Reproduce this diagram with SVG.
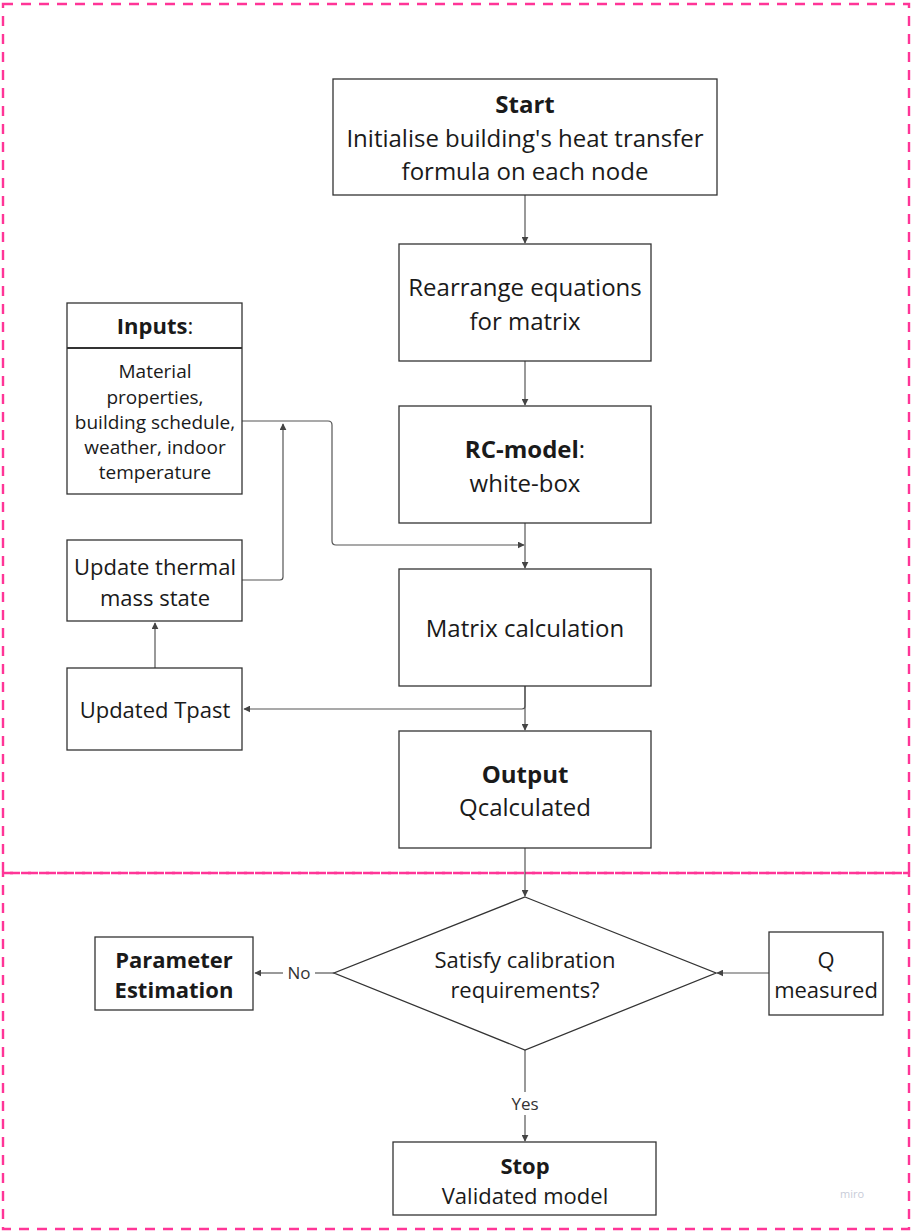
<svg xmlns="http://www.w3.org/2000/svg" width="911" height="1232" viewBox="0 0 911 1232">
  <style>
    .frame { fill: none; stroke: #ff3597; stroke-width: 2.4; stroke-dasharray: 10 8; }
    .box { fill: #ffffff; stroke: #333333; stroke-width: 1.3; }
    .t { font-family: "Open Sans", "Noto Sans", sans-serif; fill: #1a1a1a; text-anchor: middle; }
    .xl { font-size: 24px; }
    .lg { font-size: 22px; }
    .sm { font-size: 19px; }
    .b { font-weight: 700; }
    .edge { fill: none; stroke: #555555; stroke-width: 1.2; }
    .lbl { font-family: "Open Sans", "Noto Sans", sans-serif; font-size: 17px; fill: #333333; text-anchor: middle; }
  </style>
  <defs>
    <marker id="arrow" viewBox="0 0 10 10" refX="9" refY="5" markerWidth="7" markerHeight="7" orient="auto" markerUnits="userSpaceOnUse">
      <path d="M0,0 L10,5 L0,10 z" fill="#444444"/>
    </marker>
  </defs>

  <rect width="911" height="1232" fill="#ffffff"/>

  <!-- dashed frames -->
  <g id="frames">
    <rect class="frame" x="3" y="4" width="906" height="869"/>
    <rect class="frame" x="3" y="873" width="906" height="356"/>
  </g>

  <!-- connectors -->
  <g id="connectors">
    <line class="edge" x1="525" y1="195" x2="525" y2="243" marker-end="url(#arrow)"/>
    <line class="edge" x1="525" y1="361" x2="525" y2="405" marker-end="url(#arrow)"/>
    <line class="edge" x1="525" y1="523" x2="525" y2="568" marker-end="url(#arrow)"/>
    <line class="edge" x1="525" y1="686" x2="525" y2="730" marker-end="url(#arrow)"/>
    <line class="edge" x1="525" y1="848" x2="525" y2="896" marker-end="url(#arrow)"/>
    <path class="edge" d="M525,686 L525,706 Q525,709 522,709 L244,709" marker-end="url(#arrow)"/>
    <line class="edge" x1="155" y1="668" x2="155" y2="623" marker-end="url(#arrow)"/>
    <path class="edge" d="M242,580 L280,580 Q283,580 283,577 L283,424" marker-end="url(#arrow)"/>
    <path class="edge" d="M242,421 L328,421 Q332,421 332,425 L332,541 Q332,545 336,545 L524,545" marker-end="url(#arrow)"/>
    <line class="edge" x1="334" y1="973" x2="315" y2="973"/>
    <line class="edge" x1="283" y1="973" x2="255" y2="973" marker-end="url(#arrow)"/>
    <text class="lbl" x="299" y="979">No</text>
    <line class="edge" x1="769" y1="973" x2="717" y2="973" marker-end="url(#arrow)"/>
    <line class="edge" x1="525" y1="1050" x2="525" y2="1092"/>
    <line class="edge" x1="525" y1="1115" x2="525" y2="1141" marker-end="url(#arrow)"/>
    <text class="lbl" x="525" y="1110">Yes</text>
  </g>

  <g id="start">
    <rect class="box" x="333" y="79" width="384" height="116"/>
    <text class="t xl b" x="525" y="113">Start</text>
    <text class="t xl" x="525" y="147">Initialise building's heat transfer</text>
    <text class="t xl" x="525" y="180">formula on each node</text>
  </g>

  <g id="rearrange">
    <rect class="box" x="399" y="244" width="252" height="117"/>
    <text class="t xl" x="525" y="296">Rearrange equations</text>
    <text class="t xl" x="525" y="330">for matrix</text>
  </g>

  <g id="rc-model">
    <rect class="box" x="399" y="406" width="252" height="117"/>
    <text class="t xl" x="525" y="458"><tspan class="b">RC-model</tspan>:</text>
    <text class="t xl" x="525" y="492">white-box</text>
  </g>

  <g id="matrix">
    <rect class="box" x="399" y="569" width="252" height="117"/>
    <text class="t xl" x="525" y="637">Matrix calculation</text>
  </g>

  <g id="output">
    <rect class="box" x="399" y="731" width="252" height="117"/>
    <text class="t xl b" x="525" y="783">Output</text>
    <text class="t xl" x="525" y="816">Qcalculated</text>
  </g>

  <g id="inputs">
    <rect class="box" x="67" y="303" width="175" height="191"/>
    <line x1="67" y1="348" x2="242" y2="348" stroke="#333333" stroke-width="2"/>
    <text class="t" x="155" y="334" font-size="22"><tspan class="b">Inputs</tspan>:</text>
    <text class="t sm" x="155" y="378">Material</text>
    <text class="t sm" x="155" y="404">properties,</text>
    <text class="t sm" x="155" y="429">building schedule,</text>
    <text class="t sm" x="155" y="454">weather, indoor</text>
    <text class="t sm" x="155" y="479">temperature</text>
  </g>

  <g id="update-thermal">
    <rect class="box" x="67" y="540" width="175" height="81"/>
    <text class="t lg" x="155" y="575">Update thermal</text>
    <text class="t lg" x="155" y="606">mass state</text>
  </g>

  <g id="updated-tpast">
    <rect class="box" x="67" y="668" width="175" height="82"/>
    <text class="t lg" x="155" y="718">Updated Tpast</text>
  </g>

  <g id="decision">
    <polygon class="box" points="525,897 716,973 525,1050 334,973"/>
    <text class="t lg" x="525" y="968">Satisfy calibration</text>
    <text class="t lg" x="525" y="998">requirements?</text>
  </g>

  <g id="param-est">
    <rect class="box" x="95" y="937" width="158" height="73"/>
    <text class="t lg b" x="174" y="968">Parameter</text>
    <text class="t lg b" x="174" y="998">Estimation</text>
  </g>

  <g id="q-measured">
    <rect class="box" x="769" y="932" width="114" height="83"/>
    <text class="t lg" x="826" y="968">Q</text>
    <text class="t lg" x="826" y="998">measured</text>
  </g>

  <g id="stop">
    <rect class="box" x="393" y="1142" width="263" height="73"/>
    <text class="t lg b" x="525" y="1174">Stop</text>
    <text class="t lg" x="525" y="1204">Validated model</text>
  </g>

  <text x="852" y="1198" font-family="Open Sans, sans-serif" font-size="11" fill="#c8ccd8" text-anchor="middle">miro</text>
</svg>
